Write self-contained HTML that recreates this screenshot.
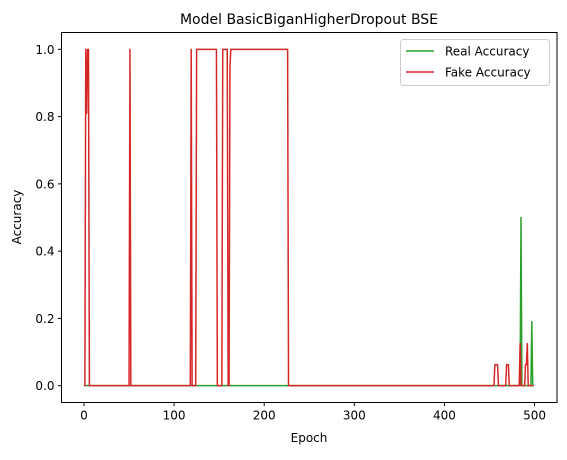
<!DOCTYPE html>
<html><head><meta charset="utf-8"><style>
html,body{margin:0;padding:0;background:#fff;}
svg text{font-family:"DejaVu Sans","Liberation Sans",sans-serif;fill:#000;}
</style></head><body>
<svg width="567" height="455" viewBox="0 0 567 455" xmlns="http://www.w3.org/2000/svg">
<rect width="567" height="455" fill="#fff"/>
<text x="309" y="24" font-size="14" text-anchor="middle">Model BasicBiganHigherDropout BSE</text>
<g id="xticks"></g>
<g id="yticks"></g>
<g id="series"></g>
<rect x="61.5" y="32.5" width="495.5" height="370" fill="none" stroke="#000" stroke-width="1"/>
<text x="309" y="442" font-size="12" text-anchor="middle">Epoch</text>
<text x="21" y="217" font-size="12" text-anchor="middle" transform="rotate(-90 21 217)">Accuracy</text>
<g>
<rect x="400.5" y="39.5" width="149" height="46" rx="3" fill="#fff" fill-opacity="0.8" stroke="#ccc"/>
<line x1="406" y1="51" x2="434" y2="51" stroke="#2ca02c" stroke-width="1.5"/>
<text x="445" y="55.5" font-size="12">Real Accuracy</text>
<line x1="406" y1="72" x2="434" y2="72" stroke="#d62728" stroke-width="1.5"/>
<text x="445" y="76.5" font-size="12">Fake Accuracy</text>
</g>
</svg>
<script>
const xTicks = [0, 100, 200, 300, 400, 500];
const yTicks = [0.0, 0.2, 0.4, 0.6, 0.8, 1.0];
const yTickLabels = ["0.0", "0.2", "0.4", "0.6", "0.8", "1.0"];
// run-length encoded series: [value, epochCount]
const realRuns = [[0,485],[0.5,1],[0,11],[0.19,1],[0,2]];
const fakeRuns = [[0,2],[1,1],[0.81,1],[1,2],[0,45],[1,1],[0,67],[1,1],[0,5],[1,23],[0,6],[1,6],[0,2],[0.95,1],[1,64],[0,229],[0.0625,4],[0,9],[0.0625,3],[0,12],[0.125,1],[0,5],[0.0625,2],[0.125,1],[0,7]];

const NS = "http://www.w3.org/2000/svg";
const L = 61.5, R = 557, T = 32.5, B = 402.5;
const xMin = -24.95, xMax = 524.95, yMin = -0.05, yMax = 1.05;
const xs = v => L + (v - xMin) / (xMax - xMin) * (R - L);
const ys = v => B - (v - yMin) / (yMax - yMin) * (B - T);

function expand(runs){ const out=[]; runs.forEach(r=>{for(let i=0;i<r[1];i++)out.push(r[0]);}); return out; }

const xg = document.getElementById('xticks');
xTicks.forEach(t=>{
  const l=document.createElementNS(NS,'line');
  
  
  l.setAttribute('x1',xs(t));l.setAttribute('x2',xs(t));l.setAttribute('y1',B);l.setAttribute('y2',B+3.5);l.setAttribute('stroke','#000');
  xg.appendChild(l);
  const tx=document.createElementNS(NS,'text');
  
  
  tx.setAttribute('x',xs(t));tx.setAttribute('y',B+17);tx.setAttribute('font-size','12');tx.setAttribute('text-anchor','middle');
  tx.textContent=t; xg.appendChild(tx);
});
const yg = document.getElementById('yticks');
yTicks.forEach((t,i)=>{
  const l=document.createElementNS(NS,'line');
  
  
  l.setAttribute('x1',L-3.5);l.setAttribute('x2',L);l.setAttribute('y1',ys(t));l.setAttribute('y2',ys(t));l.setAttribute('stroke','#000');
  yg.appendChild(l);
  const tx=document.createElementNS(NS,'text');
  
  
  tx.setAttribute('x',L-7);tx.setAttribute('y',ys(t)+4.5);tx.setAttribute('font-size','12');tx.setAttribute('text-anchor','end');
  tx.textContent=yTickLabels[i]; yg.appendChild(tx);
});
const sg = document.getElementById('series');
function drawLine(vals,color,name){
  const p=document.createElementNS(NS,'polyline');
  
  
  p.setAttribute('points',vals.map((v,i)=>xs(i).toFixed(2)+','+ys(v).toFixed(2)).join(' '));
  p.setAttribute('fill','none');p.setAttribute('stroke',color);p.setAttribute('stroke-width','1.5');p.setAttribute('stroke-linejoin','round');
  sg.appendChild(p);
}
drawLine(expand(realRuns),'#2ca02c','real-accuracy-line');
drawLine(expand(fakeRuns),'#d62728','fake-accuracy-line');
</script>
</body></html>
